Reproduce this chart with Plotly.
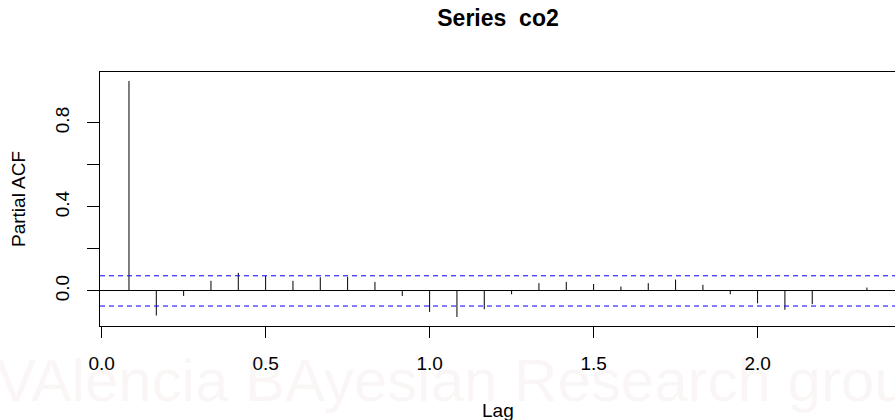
import plotly.graph_objects as go

# ---- data ----
lag_months = [1, 2, 3, 4, 5, 6, 7, 8, 9, 10, 11, 12, 13, 14,
              15, 16, 17, 18, 19, 20, 21, 22, 23, 24, 25, 26, 27, 28]
frequency = 12
pacf_values = [0.999, -0.117, -0.024, 0.048, 0.086, 0.071, 0.048, 0.065,
               0.067, 0.043, -0.024, -0.100, -0.124, -0.087, -0.016, 0.037,
               0.043, 0.033, 0.021, 0.037, 0.054, 0.029, -0.016, -0.059,
               -0.090, -0.063, 0.003, 0.016]
conf_bound = 0.072
x_tickvals = [0.0, 0.5, 1.0, 1.5, 2.0]
x_ticktext = ["0.0", "0.5", "1.0", "1.5", "2.0"]
y_tickvals = [0.0, 0.2, 0.4, 0.6, 0.8]
y_ticktext = ["0.0", "", "0.4", "", "0.8"]
title_text = "<b>Series  co2</b>"
x_title = "Lag"
y_title = "Partial ACF"
watermark = "VAlencia BAyesian Research group"

lags = [m / frequency for m in lag_months]

# spikes (type = "h")
sx, sy = [], []
for x, v in zip(lags, pacf_values):
    sx += [x, x, None]
    sy += [0, v, None]

FONT = "Liberation Sans, Arial, Helvetica, sans-serif"
X_RANGE = [-0.005, 2.419]
Y_RANGE = [-0.167, 1.042]
ML, MR, MT, MB = 100, 0, 72, 94
PW, PH = 895 - ML - MR, 420 - MT - MB

fig = go.Figure()

fig.add_trace(go.Scatter(x=sx, y=sy, mode="lines",
                         line=dict(color="black", width=1),
                         hoverinfo="skip", showlegend=False))
for b in (conf_bound, -conf_bound):
    fig.add_trace(go.Scatter(x=X_RANGE, y=[b, b], mode="lines",
                             line=dict(color="#0000ff", width=1, dash="5px,4px"),
                             hoverinfo="skip", showlegend=False))

fig.update_layout(
    width=895, height=420,
    margin=dict(l=ML, r=MR, t=MT, b=MB),
    paper_bgcolor="white", plot_bgcolor="rgba(0,0,0,0)",
    font=dict(family=FONT, color="black", size=19),
    title=dict(text=title_text, x=(498) / 895, xanchor="center",
               y=1 - 18 / 420, yanchor="middle", yref="container",
               font=dict(size=23, family=FONT, color="black")),
    showlegend=False,
)
fig.update_xaxes(range=X_RANGE, tickvals=x_tickvals, ticktext=x_ticktext,
                 showgrid=False, zeroline=False, showline=True, mirror=True,
                 linecolor="black", linewidth=1, ticks="outside", ticklen=11,
                 tickcolor="black", tickwidth=1, ticklabelstandoff=9,
                 tickfont=dict(size=19, family=FONT, color="black"))
fig.update_yaxes(range=Y_RANGE, tickvals=y_tickvals, ticktext=y_ticktext,
                 showgrid=False, zeroline=True, zerolinecolor="black",
                 zerolinewidth=1, showline=True, mirror=False,
                 linecolor="black", linewidth=1, ticks="outside", ticklen=12,
                 tickcolor="black", tickwidth=1, tickangle=-90,
                 ticklabelstandoff=10,
                 tickfont=dict(size=19, family=FONT, color="black"))

# watermark: very faint translucent text (black labels show through it)
fig.add_annotation(text=watermark, xref="paper", yref="paper",
                   x=(-6 - ML) / PW, y=(MT + PH - 380) / PH,
                   xanchor="left", yanchor="middle", showarrow=False,
                   font=dict(size=60, color="rgba(180,110,110,0.06)",
                             family=FONT))
# axis titles
fig.add_annotation(text=x_title, xref="paper", yref="paper",
                   x=(498 - ML) / PW, y=(MT + PH - 410) / PH,
                   xanchor="center", yanchor="middle", showarrow=False,
                   font=dict(size=19, family=FONT, color="black"))
fig.add_annotation(text=y_title, xref="paper", yref="paper",
                   x=(18 - ML) / PW, y=0.5, textangle=-90,
                   xanchor="center", yanchor="middle", showarrow=False,
                   font=dict(size=19, family=FONT, color="black"))

fig.write_html("out.html")
